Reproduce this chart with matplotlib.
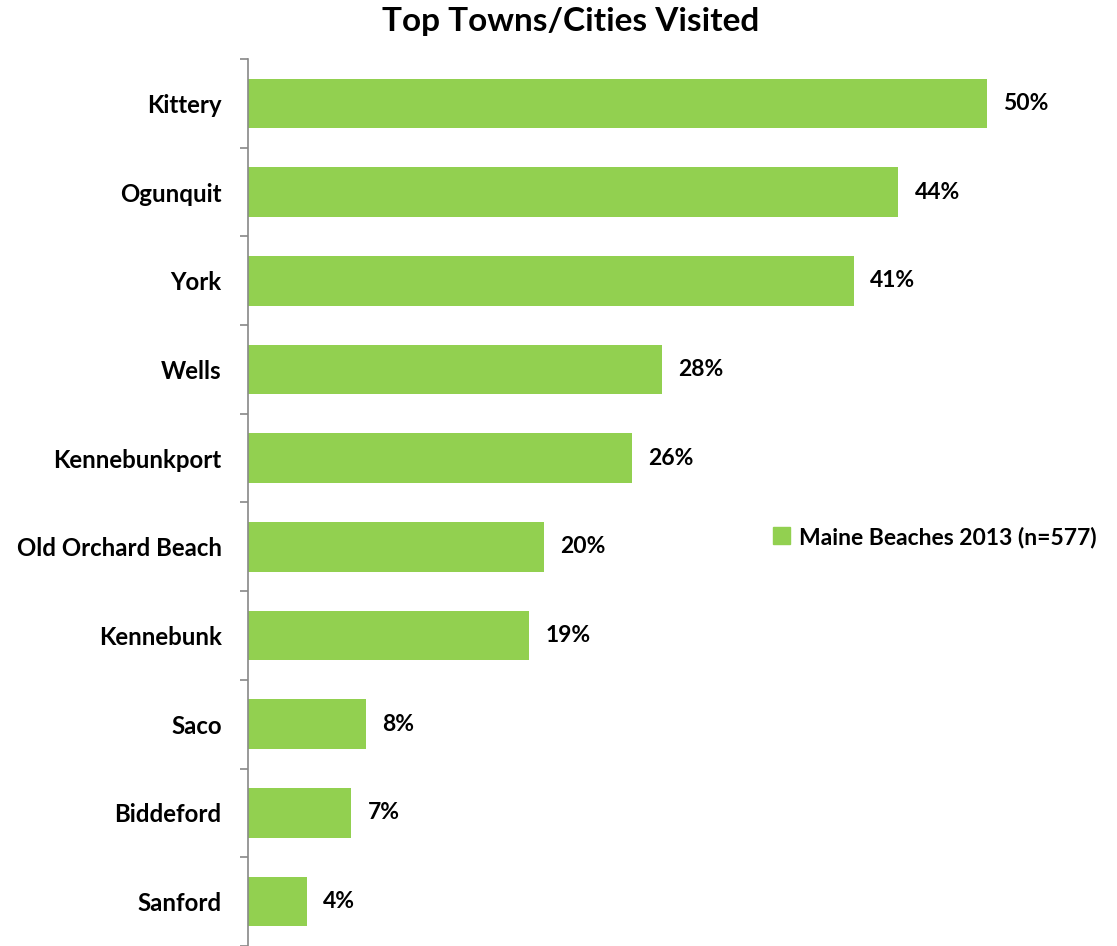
import matplotlib.pyplot as plt
from matplotlib.patches import Patch

# Share of visitors who went to each town
towns = ["Kittery", "Ogunquit", "York", "Wells", "Kennebunkport",
         "Old Orchard Beach", "Kennebunk", "Saco", "Biddeford", "Sanford"]
pct = [50, 44, 41, 28, 26, 20, 19, 8, 7, 4]
series_name = "Maine Beaches 2013 (n=577)"

green = "#92D050"
plt.rcParams["font.family"] = ["Lato", "DejaVu Sans"]
wt = "bold"

fig = plt.figure(figsize=(11.17, 9.46), dpi=100)
ax = fig.add_axes([248 / 1117, 0.0, 813 / 1117, 1 - 59 / 946])

ypos = list(range(len(towns)))
ax.barh(ypos, pct, height=0.56, color=green)
ax.set_ylim(len(towns) - 0.5, -0.5)
ax.set_xlim(0, 55)

for y, v in zip(ypos, pct):
    ax.text(v + 1.1, y, f"{v}%", va="center", ha="left",
            fontsize=16.5, fontweight=wt)

ax.set_yticks(ypos)
ax.set_yticklabels(towns, fontsize=17.3, fontweight=wt)
ax.tick_params(axis="y", which="major", length=0, pad=19)
ax.set_yticks([i - 0.5 for i in range(len(towns) + 1)], minor=True)
ax.tick_params(axis="y", which="minor", length=6, width=1.2, color="#888888")
ax.set_xticks([])

for s in ["top", "right", "bottom"]:
    ax.spines[s].set_visible(False)
ax.spines["left"].set_color("#888888")
ax.spines["left"].set_linewidth(1.2)

fig.text(0.5 + 12 / 1117, 1 - 22 / 946, "Top Towns/Cities Visited", ha="center", va="center",
         fontsize=24, fontweight=wt)

fig.legend(handles=[Patch(color=green, label=series_name)],
           loc="center left", bbox_to_anchor=(773 / 1117, 1 - 537 / 946),
           frameon=False, borderpad=0, borderaxespad=0,
           handlelength=0.75, handleheight=0.75, handletextpad=0.4,
           prop={"size": 16.5, "weight": wt})

fig.savefig("out.png", dpi=100)
